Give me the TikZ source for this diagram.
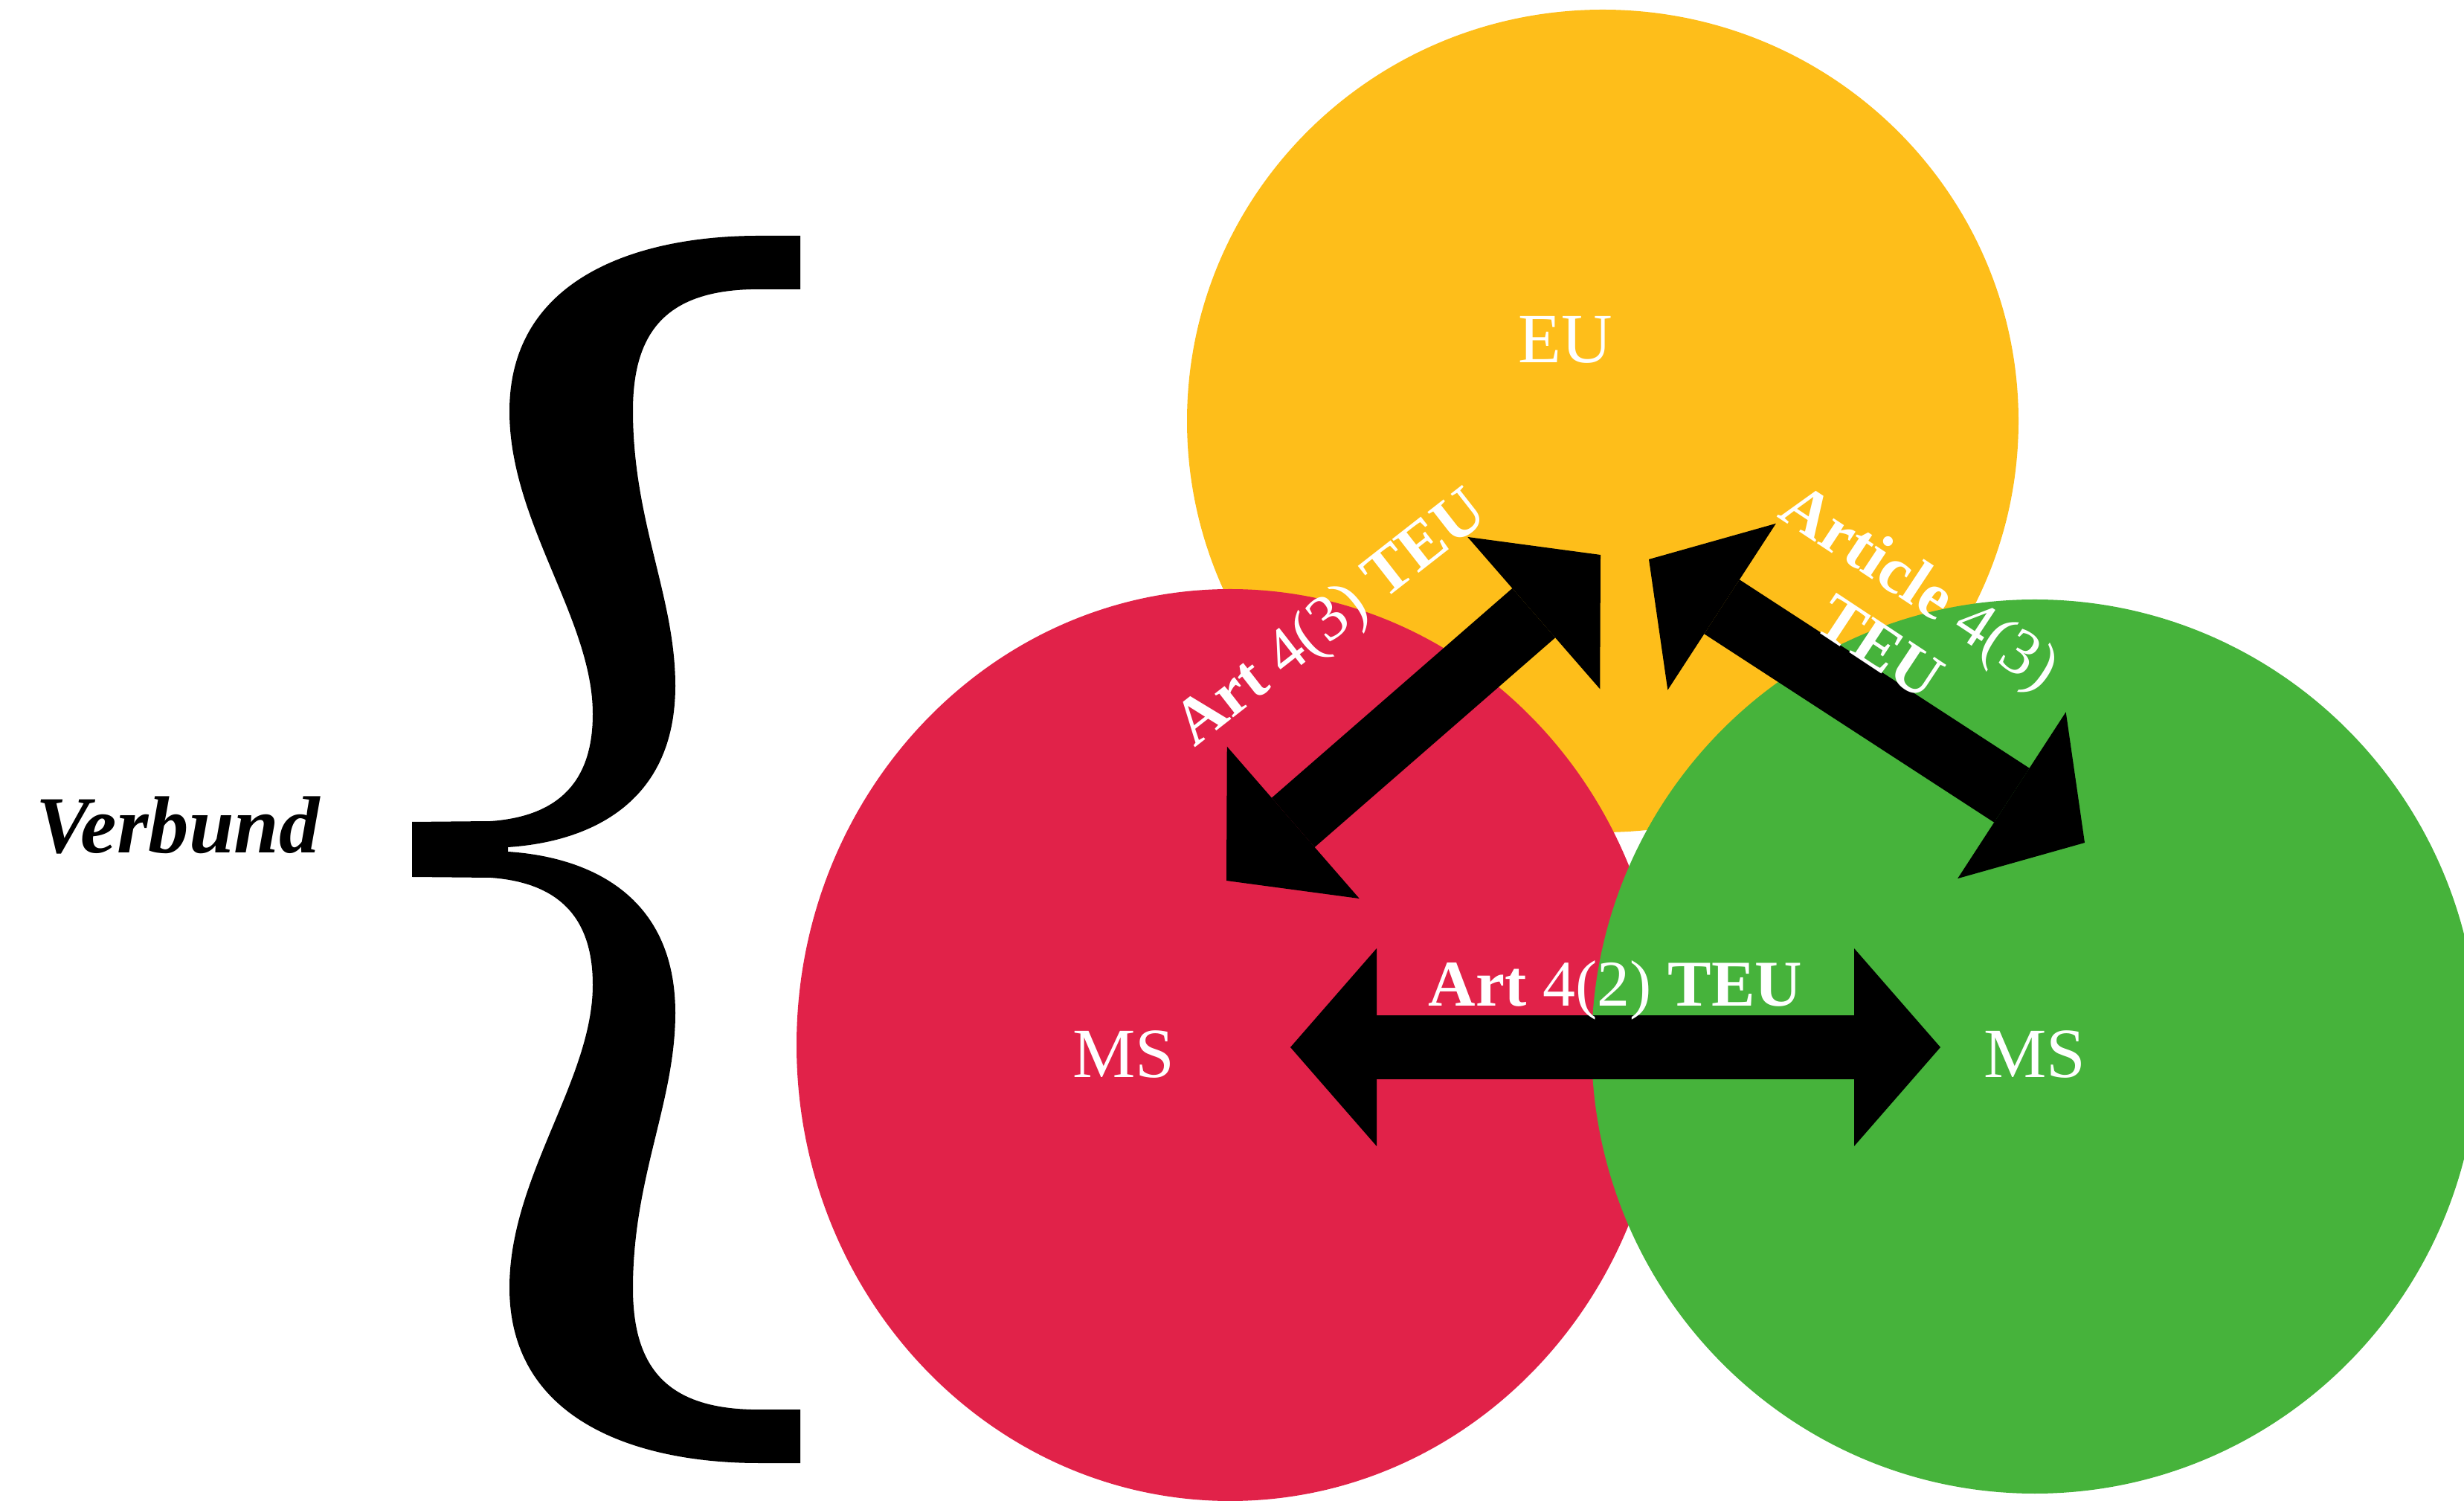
\documentclass[tikz,border=0pt]{standalone}
\usepackage{fontspec}
\setmainfont{Liberation Serif}
\usetikzlibrary{shapes.geometric,arrows.meta}

\begin{document}
\begin{tikzpicture}[
    disc/.style={ellipse, inner sep=0pt, draw=none},
    circlabel/.style={white, font=\fontsize{27}{30}\selectfont, inner sep=0pt, anchor=base},
    artlabel/.style={white, font=\fontsize{25}{27}\selectfont, inner sep=0pt, align=center},
    blockarrow/.style n args={3}{line width=#1,
        {Triangle[length=#2, width=#3, line width=0pt]}-{Triangle[length=#2, width=#3, line width=0pt]}}
]
    \definecolor{euyellow}{RGB}{254,190,26}
    \definecolor{msred}{RGB}{225,34,73}
    \definecolor{msgreen}{RGB}{70,179,59}

    \useasboundingbox (0,0) rectangle (33.13,20.17);
    \clip (0,0) rectangle (33.13,20.17);

    % the three circles
    \node[disc, fill=euyellow, minimum width=11.18cm, minimum height=11.06cm] (eu) at (21.55,14.51) {};
    \node[disc, fill=msred, minimum width=11.66cm, minimum height=12.26cm] (msleft) at (16.54,6.12) {};
    \node[disc, fill=msgreen, minimum width=11.92cm, minimum height=12.02cm] (msright) at (27.36,6.10) {};

    % arrow ends
    \coordinate (euleft) at (21.52,12.71);
    \coordinate (msleftup) at (16.49,8.33);
    \coordinate (euright) at (22.17,12.65);
    \coordinate (msrightup) at (28.03,8.84);
    \coordinate (msleftin) at (17.35,6.09);
    \coordinate (msrightin) at (26.09,6.09);

    \draw[blockarrow={0.88cm}{1.19cm}{2.71cm}] (msleftup) -- (euleft);
    \draw[blockarrow={0.87cm}{1.17cm}{2.67cm}] (euright) -- (msrightup);
    \draw[blockarrow={0.86cm}{1.16cm}{2.66cm}] (msleftin) -- (msrightin);

    % the brace, drawn as two mirrored halves
    \foreach \s in {1,-1}
        \fill[black, shift={(0,8.75)}, yscale=\s] (5.54,0) -- (5.54,0.37) -- (6.6,0.38)
            .. controls (7.55,0.45) and (7.97,0.95) .. (7.97,1.82)
            .. controls (7.97,3.1) and (6.85,4.4) .. (6.85,5.89)
            .. controls (6.85,7.7) and (8.6,8.25) .. (10.2,8.25)
            -- (10.76,8.25) -- (10.76,7.53) -- (10.1,7.53)
            .. controls (9.0,7.5) and (8.51,7.0) .. (8.51,5.9)
            .. controls (8.51,4.4) and (9.08,3.4) .. (9.08,2.2)
            .. controls (9.08,0.6) and (7.9,0.1) .. (6.83,0.03)
            -- (6.83,0) -- cycle;

    \node[font=\fontsize{31}{34}\selectfont\bfseries\itshape, anchor=base, inner sep=0pt] (verbund) at (2.39,8.70) {Verbund};

    \node[circlabel] (eulabel) at (21.05,15.29) {EU};
    \node[circlabel] (msleftlabel) at (15.11,5.68) {MS};
    \node[circlabel] (msrightlabel) at (27.36,5.68) {MS};

    \node[artlabel, anchor=base] (arttwo) at (21.72,6.64) {\textbf{Art} 4(2) \textbf{TEU}};
    \node[artlabel, anchor=base, rotate=38] (artthree) at (18.05,11.66) {\textbf{Art} 4(3) \textbf{TEU}};
    \node[artlabel, rotate=-33.5] (articlethree) at (25.56,11.89) {\textbf{Article} 4(3)\\[1pt]\textbf{TEU}};
\end{tikzpicture}
\end{document}
